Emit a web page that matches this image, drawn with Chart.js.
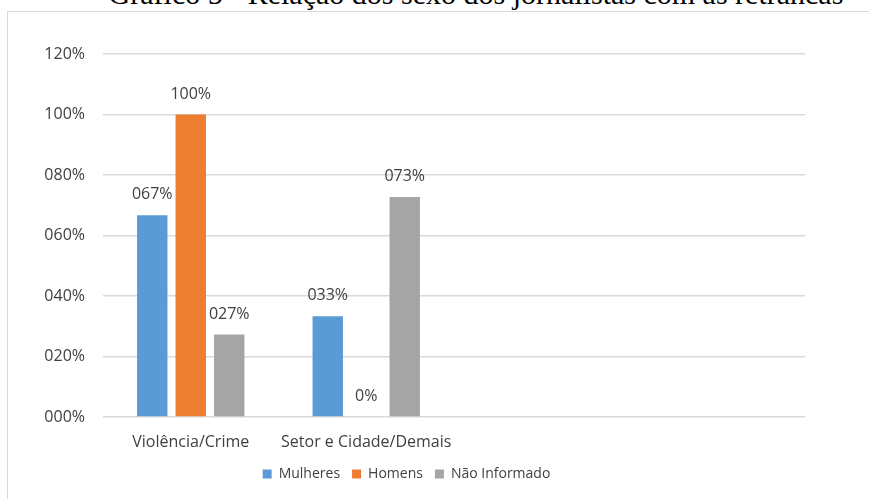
<!DOCTYPE html>
<html>
<head>
<meta charset="utf-8">
<script src="https://cdn.jsdelivr.net/npm/chart.js@4.4.1/dist/chart.umd.min.js"></script>
<style>
  html, body { margin: 0; padding: 0; background: #fff; overflow: hidden; }
  body { width: 869px; height: 499px; position: relative; }
  #titulo {
    position: absolute; left: 0; width: 952px; top: -21px;
    font: 30px/30px 'Liberation Serif', 'Times New Roman', serif;
    text-align: center; color: #000; white-space: nowrap;
  }
  #moldura {
    position: absolute; left: 7px; top: 11px; width: 880px; height: 500px;
    border: 1px solid #d9d9d9; box-sizing: border-box;
  }
  #wrap { position: absolute; left: 8px; top: 12px; width: 861px; height: 487px; }
</style>
</head>
<body>
<div id="titulo">Gráfico 5 - Relação dos sexo dos jornalistas com as retrancas</div>
<div id="moldura"></div>
<div id="wrap"><canvas id="grafico"></canvas></div>
<script>
// categorias (as duas ultimas ficam vazias, como no grafico original)
const categorias = ['Violência/Crime', 'Setor e Cidade/Demais', '', '']
const mulheres = [66.67, 33.33, null, null]
const homens = [100, 0, null, null]
const naoInformado = [27.27, 72.73, null, null]
const ticksY = [0, 20, 40, 60, 80, 100, 120]

const corTexto = '#404040'
const fonte = "'Open Sans', 'Noto Sans', sans-serif"

const fmt = (v) => String(Math.round(v)).padStart(3, '0') + '%'

// rotulos em cima das barras
const rotulos = {
    id: 'rotulos',
    afterDatasetsDraw(chart) {
        const {ctx} = chart
        ctx.save()
        ctx.font = '16px ' + fonte
        ctx.fillStyle = corTexto
        ctx.textAlign = 'center'
        ctx.textBaseline = 'alphabetic'
        chart.data.datasets.forEach((ds, i) => {
            chart.getDatasetMeta(i).data.forEach((bar, j) => {
                const v = ds.data[j]
                if (v === null) return
                const txt = v === 0 ? '0%' : fmt(v)
                ctx.fillText(txt, bar.x, bar.y - 16)
            })
        })
        ctx.restore()
    }
}

const desenhar = () => {
    const data = {
        labels: categorias,
        datasets: [
            { label: 'Mulheres', data: mulheres, backgroundColor: '#5b9bd5' },
            { label: 'Homens', data: homens, backgroundColor: '#ed7d31' },
            { label: 'Não Informado', data: naoInformado, backgroundColor: '#a5a5a5' }
        ]
    }

    const config = {
        type: 'bar',
        data,
        options: {
            responsive: true,
            maintainAspectRatio: false,
            animation: false,
            categoryPercentage: 0.658,
            barPercentage: 0.79,
            layout: { padding: { top: 42, right: 64, left: 0, bottom: 8 } },
            plugins: {
                tooltip: { enabled: false },
                legend: {
                    position: 'bottom',
                    labels: {
                        boxWidth: 9, boxHeight: 9, padding: 12,
                        color: corTexto,
                        font: { size: 14, family: fonte }
                    }
                }
            },
            scales: {
                x: {
                    grid: { display: false },
                    border: { display: false },
                    ticks: {
                        color: corTexto, font: { size: 16, family: fonte }, padding: 8,
                        maxRotation: 0, minRotation: 0, autoSkip: false
                    },
                    afterFit: (s) => { s.height = 38 }
                },
                y: {
                    min: 0, max: 120,
                    afterBuildTicks: (s) => { s.ticks = ticksY.map(v => ({ value: v })) },
                    grid: { color: '#d9d9d9', lineWidth: 1.5, drawTicks: false },
                    border: { display: false },
                    ticks: {
                        color: corTexto, font: { size: 16, family: fonte }, padding: 18,
                        callback: (v) => fmt(v)
                    },
                    afterFit: (s) => { s.width = 95 }
                }
            }
        },
        plugins: [rotulos]
    }

    new Chart(document.getElementById('grafico'), config)
}

desenhar()
</script>
</body>
</html>
